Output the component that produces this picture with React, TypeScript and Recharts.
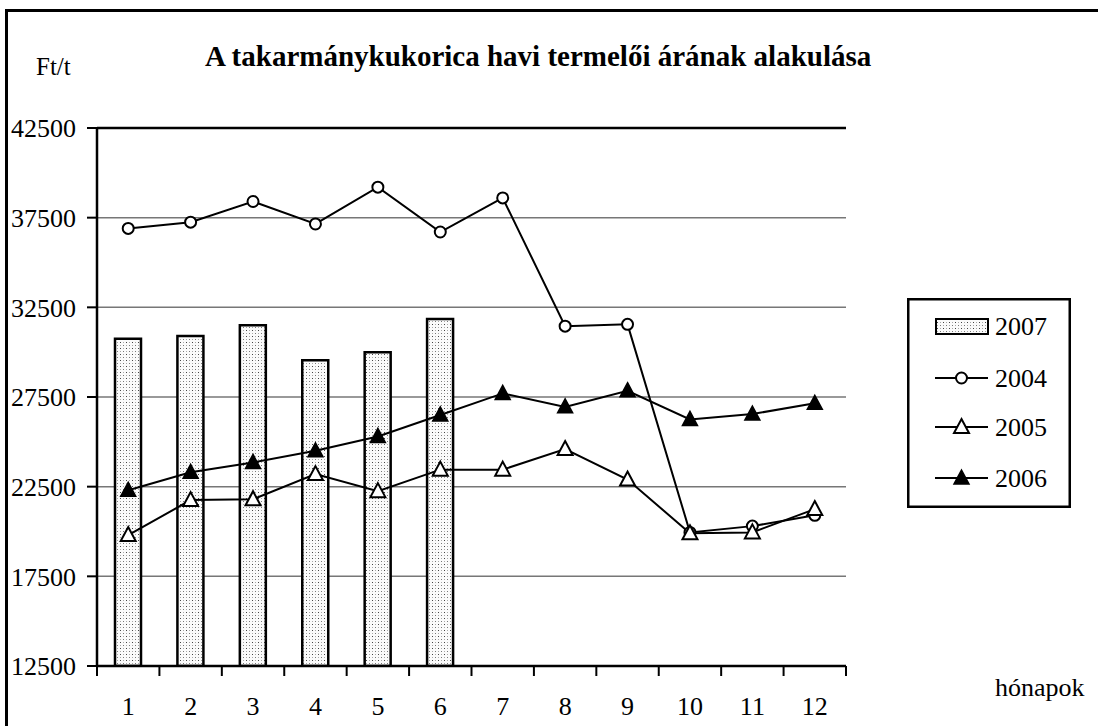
import { Bar, CartesianGrid, ComposedChart, Legend, Line, ReferenceLine, XAxis, YAxis } from "recharts";

const months = ["1", "2", "3", "4", "5", "6", "7", "8", "9", "10", "11", "12"];
const prices2007 = [30750, 30900, 31500, 29550, 30000, 31850, null, null, null, null, null, null];
const prices2004 = [36900, 37250, 38400, 37150, 39200, 36700, 38600, 31450, 31550, 19950, 20300, 20900];
const prices2005 = [19800, 21750, 21800, 23200, 22250, 23450, 23450, 24600, 22900, 19900, 19950, 21250];
const prices2006 = [22300, 23300, 23850, 24500, 25300, 26500, 27700, 26950, 27850, 26250, 26550, 27150];
const yTicks = [12500, 17500, 22500, 27500, 32500, 37500, 42500];

const data = months.map((m, i) => ({
  month: m,
  y2007: prices2007[i],
  y2004: prices2004[i],
  y2005: prices2005[i],
  y2006: prices2006[i],
}));

const FONT = "Liberation Serif, DejaVu Serif, serif";
const W = 1098;
const H = 726;
const PLOT_LEFT = 97;
const PLOT_RIGHT = 846;
const step = (PLOT_RIGHT - PLOT_LEFT) / months.length;

function circleDot(props: any) {
  const { cx, cy, index } = props;
  if (cx == null || cy == null) return <g key={`c-${index}`} />;
  return <circle key={`c-${index}`} cx={cx} cy={cy} r={5.5} fill="#fff" stroke="#000" strokeWidth={2} />;
}

function trianglePath(cx: number, cy: number) {
  return `M${cx},${cy - 8} L${cx + 7.5},${cy + 6} L${cx - 7.5},${cy + 6} Z`;
}

function openTriangle(props: any) {
  const { cx, cy, index } = props;
  if (cx == null || cy == null) return <g key={`o-${index}`} />;
  return <path key={`o-${index}`} d={trianglePath(cx, cy)} fill="#fff" stroke="#000" strokeWidth={2} />;
}

function filledTriangle(props: any) {
  const { cx, cy, index } = props;
  if (cx == null || cy == null) return <g key={`f-${index}`} />;
  return <path key={`f-${index}`} d={trianglePath(cx, cy)} fill="#000" stroke="#000" strokeWidth={1.5} />;
}

function MonthTick(props: any) {
  const { x, y, payload, index } = props;
  return (
    <g>
      <line x1={x - step / 2} x2={x - step / 2} y1={y} y2={y + 10} stroke="#000" strokeWidth={2} />
      {index === months.length - 1 && (
        <line x1={x + step / 2} x2={x + step / 2} y1={y} y2={y + 10} stroke="#000" strokeWidth={2} />
      )}
      <text x={x} y={y + 49} textAnchor="middle" fontSize={26} fontFamily={FONT} fill="#000">
        {payload.value}
      </text>
    </g>
  );
}

function LegendBox() {
  const rows = [
    { name: "2007", kind: "bar", y: 28 },
    { name: "2004", kind: "circle", y: 80 },
    { name: "2005", kind: "open", y: 129 },
    { name: "2006", kind: "filled", y: 180 },
  ];
  return (
    <svg width={164} height={210} style={{ display: "block" }}>
      <rect x={1.25} y={1.25} width={161.5} height={207.5} fill="#fff" stroke="#000" strokeWidth={2.5} />
      {rows.map((r) => (
        <g key={r.name}>
          {r.kind === "bar" ? (
            <rect x={29} y={r.y - 7} width={52} height={15} fill="url(#dots)" stroke="#000" strokeWidth={2} />
          ) : (
            <line x1={28} x2={81} y1={r.y} y2={r.y} stroke="#000" strokeWidth={2} />
          )}
          {r.kind === "circle" && <circle cx={54.5} cy={r.y} r={5.5} fill="#fff" stroke="#000" strokeWidth={2} />}
          {r.kind === "open" && <path d={trianglePath(54.5, r.y)} fill="#fff" stroke="#000" strokeWidth={2} />}
          {r.kind === "filled" && <path d={trianglePath(54.5, r.y)} fill="#000" stroke="#000" strokeWidth={1.5} />}
          <text x={88} y={r.y + 9} fontSize={26} fontFamily={FONT} fill="#000">
            {r.name}
          </text>
        </g>
      ))}
    </svg>
  );
}

export default function App() {
  return (
    <div style={{ position: "absolute", left: 0, top: 0, width: W, height: H, overflow: "hidden", background: "#fff" }}>
      <div
        style={{
          position: "absolute",
          left: 5,
          top: 9,
          width: 2000,
          height: 2000,
          borderLeft: "3px solid #000",
          borderTop: "3px solid #000",
        }}
      />
      <svg width={0} height={0} style={{ position: "absolute" }}>
        <defs>
          <pattern id="dots" width={6} height={6} patternUnits="userSpaceOnUse">
            <rect width={6} height={6} fill="#fbfbfb" />
            <rect x={0} y={0} width={1} height={1} fill="#444" />
            <rect x={3} y={3} width={1} height={1} fill="#777" />
            <rect x={0} y={3} width={1} height={1} fill="#aaa" />
            <rect x={3} y={0} width={1} height={1} fill="#aaa" />
          </pattern>
        </defs>
      </svg>
      <ComposedChart
        width={W}
        height={H}
        data={data}
        margin={{ top: 128, right: W - PLOT_RIGHT, bottom: 0, left: 0 }}
        style={{ position: "absolute", left: 0, top: 0 }}
      >
        <CartesianGrid horizontal vertical={false} stroke="#777" strokeWidth={1.5} />
        <XAxis
          dataKey="month"
          height={60}
          axisLine={{ stroke: "#000", strokeWidth: 2.5 }}
          tickLine={false}
          tickSize={0}
          tickMargin={0}
          interval={0}
          tick={(p: any) => <MonthTick {...p} />}
        />
        <YAxis
          width={PLOT_LEFT}
          domain={[12500, 42500]}
          ticks={yTicks}
          interval={0}
          allowDataOverflow
          axisLine={{ stroke: "#000", strokeWidth: 2.5 }}
          tickLine={{ stroke: "#000", strokeWidth: 2 }}
          tickSize={10}
          tickMargin={11}
          tick={{ fill: "#000", fontSize: 26, fontFamily: FONT }}
        />
        <YAxis
          yAxisId="frame"
          orientation="right"
          width={0}
          tick={false}
          tickLine={false}
          domain={[12500, 42500]}
          axisLine={{ stroke: "#000", strokeWidth: 2.5 }}
        />
        <ReferenceLine y={42500} stroke="#000" strokeWidth={2.5} />
        <Bar
          dataKey="y2007"
          name="2007"
          barSize={26}
          fill="url(#dots)"
          stroke="#000"
          strokeWidth={2.5}
          isAnimationActive={false}
        />
        <Line
          dataKey="y2004"
          name="2004"
          stroke="#000"
          strokeWidth={2}
          dot={circleDot}
          activeDot={false}
          isAnimationActive={false}
        />
        <Line
          dataKey="y2005"
          name="2005"
          stroke="#000"
          strokeWidth={2}
          dot={openTriangle}
          activeDot={false}
          isAnimationActive={false}
        />
        <Line
          dataKey="y2006"
          name="2006"
          stroke="#000"
          strokeWidth={2}
          dot={filledTriangle}
          activeDot={false}
          isAnimationActive={false}
        />
        <Legend
          layout="horizontal"
          verticalAlign="middle"
          align="center"
          content={() => <LegendBox />}
          wrapperStyle={{ left: 907, top: 298, width: 164, height: 210 }}
        />
      </ComposedChart>
      <div
        style={{
          position: "absolute",
          left: 205,
          top: 42,
          fontFamily: FONT,
          fontWeight: "bold",
          fontSize: 29,
          lineHeight: 1,
          whiteSpace: "nowrap",
        }}
      >
        A takarmánykukorica havi termelői árának alakulása
      </div>
      <div style={{ position: "absolute", left: 36, top: 54, fontFamily: FONT, fontSize: 25, lineHeight: 1 }}>Ft/t</div>
      <div style={{ position: "absolute", left: 995, top: 675, fontFamily: FONT, fontSize: 26, lineHeight: 1 }}>
        hónapok
      </div>
    </div>
  );
}
